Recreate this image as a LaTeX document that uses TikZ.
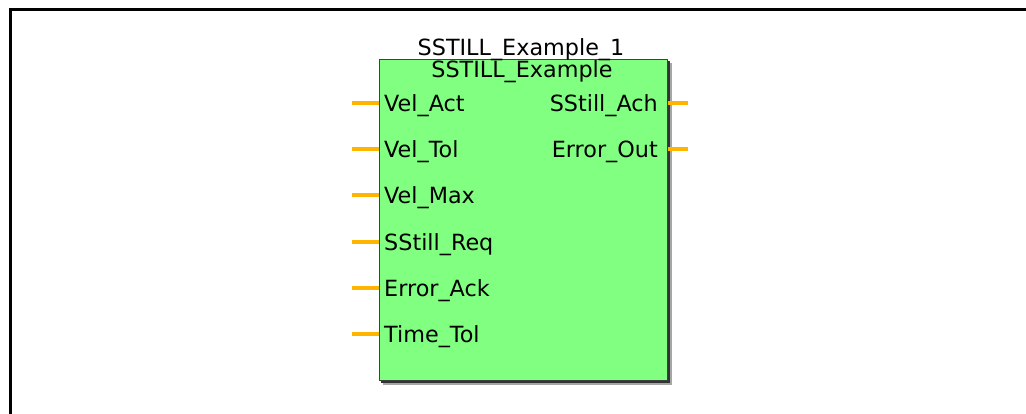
\documentclass[tikz,border=0pt]{standalone}
\usepackage{fontspec}
\setmainfont{DejaVu Sans}
\definecolor{fbgreen}{HTML}{80FF80}
\definecolor{pinorange}{HTML}{FFB400}
\definecolor{fbborder}{HTML}{404040}
\begin{document}
\begin{tikzpicture}[x=1pt,y=-1pt,
  lbl/.style={font=\fontsize{22.3}{25}\selectfont, inner sep=0pt, text=black},
  pinline/.style={draw=pinorange, line width=4pt},
  frameline/.style={draw=black, line width=2.7pt}]
\useasboundingbox (0,0) rectangle (1026,414);
% outer frame
\coordinate (fbl) at (10.5,414);
\coordinate (ftl) at (10.5,9.7);
\coordinate (ftr) at (1026,9.7);
\draw[frameline] (fbl) -- (ftl) -- (ftr);
% shadow
\fill[black!35] (383,63) rectangle (672,385);
\fill[black!80] (381,61) rectangle (670,383);
% function block
\node[draw=fbborder, fill=fbgreen, line width=1.3pt, minimum width=288pt,
      minimum height=321pt, anchor=north west, inner sep=0pt] (fb) at (379,59) {};
% titles
\node[lbl, anchor=base] (inst) at (521,56) {SSTILL\_Example\_1};
\node[lbl, anchor=base] (type) at (522,78) {SSTILL\_Example};
% inputs
\foreach \n/\y/\t in {1/103/Vel\_Act, 2/149.2/Vel\_Tol, 3/195.4/Vel\_Max,
                       4/241.6/SStill\_Req, 5/287.8/Error\_Ack, 6/334/Time\_Tol}{
  \coordinate (in\n) at (352,\y);
  \draw[pinline] (in\n) -- (in\n -| fb.west);
  \node[lbl, anchor=base west] (inl\n) at (384,\y+8.5) {\t};
}
% outputs
\foreach \n/\y/\t in {1/103/SStill\_Ach, 2/149.2/Error\_Out}{
  \coordinate (out\n) at (688,\y);
  \draw[pinline] (out\n -| fb.east) -- (out\n);
  \node[lbl, anchor=base east] (outl\n) at (658,\y+8.5) {\t};
}
\end{tikzpicture}
\end{document}
